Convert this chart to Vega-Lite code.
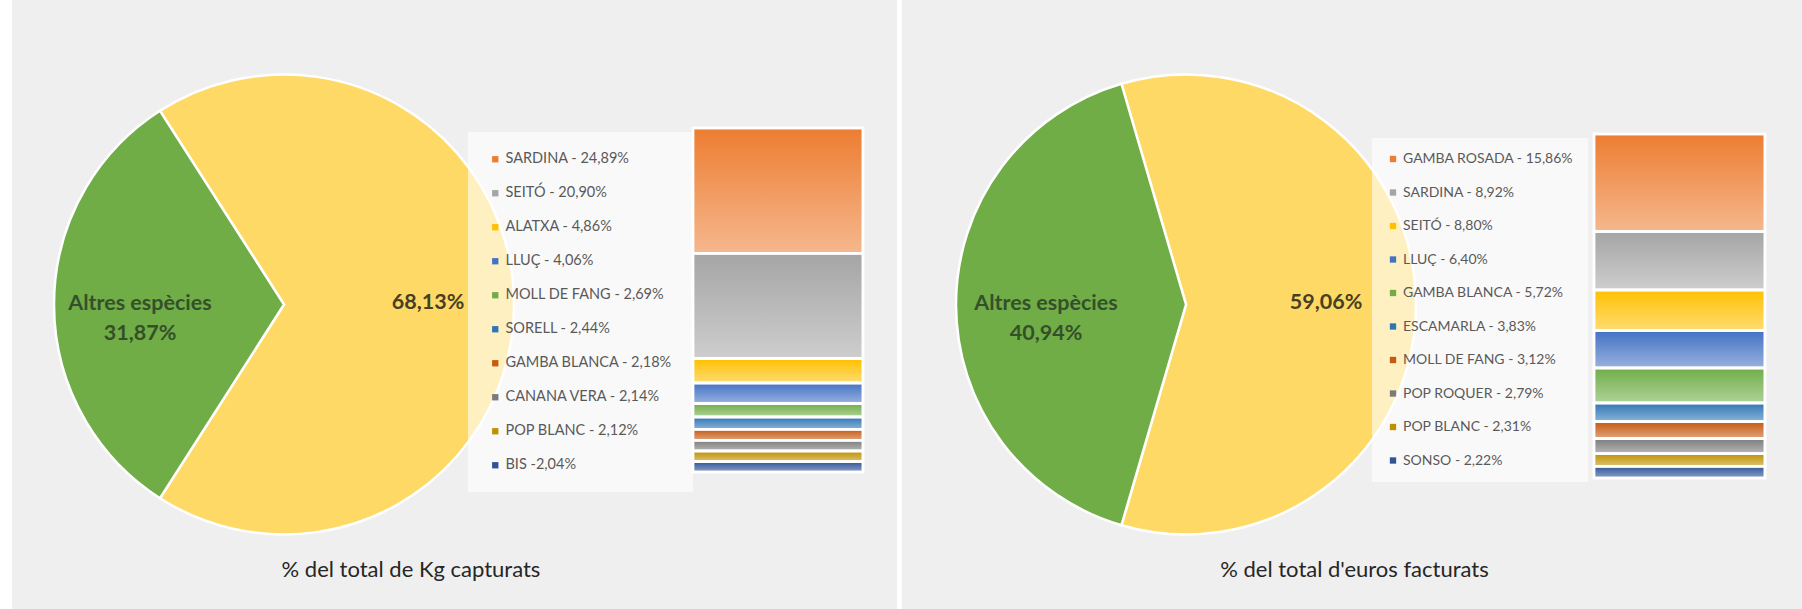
{
  "$schema": "https://vega.github.io/schema/vega-lite/v6.json",
  "background": "#FFFFFF",
  "padding": {"left": 12, "top": 0, "right": 0, "bottom": 0},
  "spacing": 5,
  "config": {"view": {"stroke": null}, "font": "Lato"},
  "resolve": {"scale": {"color": "independent", "theta": "independent", "x": "independent", "y": "independent"}, "legend": {"color": "independent"}},
  "hconcat": [
    {
      "spacing": 0,
      "bounds": "flush",
      "resolve": {"scale": {"color": "independent", "theta": "independent", "x": "independent", "y": "independent"}, "legend": {"color": "independent"}},
      "hconcat": [
        {
          "width": 544,
          "height": 609,
          "view": {"fill": "#EFEFEF", "stroke": null},
          "data": {"values": [
            {"cat": "Seleccionades", "v": 68.13, "k": 1, "lbl": "68,13%"},
            {"cat": "Altres espècies", "v": 31.87, "k": 2, "lbl": "Altres espècies\n31,87%"}
          ]},
          "encoding": {
            "theta": {"field": "v", "type": "quantitative", "stack": true, "scale": {"range": [-0.5696, 5.7136]}},
            "order": {"field": "k", "type": "quantitative"}
          },
          "layer": [
            {
              "mark": {"type": "arc", "radius": 230, "stroke": "#FFFFFF", "strokeWidth": 2.5},
              "encoding": {"color": {"field": "cat", "type": "nominal", "scale": {"domain": ["Seleccionades", "Altres espècies"], "range": ["#FFD966", "#70AD47"]}, "legend": null}}
            },
            {
              "mark": {"type": "text", "radius": 144, "font": "Lato", "fontSize": 21.5, "fontWeight": "bold", "lineBreak": "\n", "baseline": "top", "dy": -12, "lineHeight": 30},
              "encoding": {
                "text": {"field": "lbl"},
                "color": {"field": "cat", "type": "nominal", "scale": {"domain": ["Seleccionades", "Altres espècies"], "range": ["#473F22", "#34502A"]}, "legend": null}
              }
            }
          ],
          "resolve": {"scale": {"color": "independent"}}
        },
        {
          "width": 341,
          "height": 609,
          "view": {"fill": "#EFEFEF", "stroke": null},
          "title": {"text": "% del total de Kg capturats", "orient": "bottom", "anchor": "middle", "dx": -315.5, "offset": -49, "font": "Lato", "fontSize": 22, "fontWeight": "normal", "color": "#262626"},
          "data": {"values": [
            {"k": 1, "label": "SARDINA - 24,89%", "v": 24.89},
            {"k": 2, "label": "SEITÓ - 20,90%", "v": 20.90},
            {"k": 3, "label": "ALATXA - 4,86%", "v": 4.86},
            {"k": 4, "label": "LLUÇ - 4,06%", "v": 4.06},
            {"k": 5, "label": "MOLL DE FANG - 2,69%", "v": 2.69},
            {"k": 6, "label": "SORELL - 2,44%", "v": 2.44},
            {"k": 7, "label": "GAMBA BLANCA - 2,18%", "v": 2.18},
            {"k": 8, "label": "CANANA VERA - 2,14%", "v": 2.14},
            {"k": 9, "label": "POP BLANC - 2,12%", "v": 2.12},
            {"k": 10, "label": "BIS -2,04%", "v": 2.04}
          ]},
          "encoding": {
            "x": {"datum": "bar", "type": "nominal", "axis": null, "scale": {"paddingInner": 0, "paddingOuter": 0.5029, "align": 0.801}},
            "y": {"field": "v", "type": "quantitative", "stack": true, "axis": null, "scale": {"domain": [-25.42, 95.53], "reverse": true, "nice": false, "zero": false}},
            "order": {"field": "k", "type": "quantitative"}
          },
          "layer": [
            {
              "mark": {"type": "bar", "stroke": "#FFFFFF", "strokeWidth": 2.5},
              "encoding": {
                "color": {
                  "field": "label", "type": "nominal",
                  "scale": {
                    "domain": ["SARDINA - 24,89%", "SEITÓ - 20,90%", "ALATXA - 4,86%", "LLUÇ - 4,06%", "MOLL DE FANG - 2,69%", "SORELL - 2,44%", "GAMBA BLANCA - 2,18%", "CANANA VERA - 2,14%", "POP BLANC - 2,12%", "BIS -2,04%"],
                    "range": ["#ED7D31", "#A5A5A5", "#FFC000", "#4472C4", "#70AD47", "#2E75B6", "#C55A11", "#7B7B7B", "#BF9000", "#2F5597"]
                  },
                  "legend": {"orient": "none", "legendX": -88, "legendY": 132, "title": null, "symbolType": "square", "symbolSize": 40, "symbolStrokeWidth": 0, "labelFont": "Lato", "labelFontSize": 14.5, "labelColor": "#595959", "rowPadding": 19, "padding": 20, "fillColor": "rgba(255,255,255,0.6)", "labelLimit": 300, "labelOffset": 3}
                }
              }
            },
            {
              "mark": {"type": "bar", "stroke": "#FFFFFF", "strokeWidth": 2.5, "fill": {"gradient": "linear", "x1": 0, "y1": 0, "x2": 0, "y2": 1, "stops": [{"offset": 0, "color": "rgba(255,255,255,0)"}, {"offset": 1, "color": "rgba(255,255,255,0.45)"}]}}
            }
          ]
        }
      ]
    },
    {
      "spacing": 0,
      "bounds": "flush",
      "resolve": {"scale": {"color": "independent", "theta": "independent", "x": "independent", "y": "independent"}, "legend": {"color": "independent"}},
      "hconcat": [
        {
          "width": 568,
          "height": 609,
          "view": {"fill": "#EFEFEF", "stroke": null},
          "data": {"values": [
            {"cat": "Seleccionades", "v": 59.06, "k": 1, "lbl": "59,06%"},
            {"cat": "Altres espècies", "v": 40.94, "k": 2, "lbl": "Altres espècies\n40,94%"}
          ]},
          "encoding": {
            "theta": {"field": "v", "type": "quantitative", "stack": true, "scale": {"range": [-0.2847, 5.9985]}},
            "order": {"field": "k", "type": "quantitative"}
          },
          "layer": [
            {
              "mark": {"type": "arc", "radius": 230, "stroke": "#FFFFFF", "strokeWidth": 2.5},
              "encoding": {"color": {"field": "cat", "type": "nominal", "scale": {"domain": ["Seleccionades", "Altres espècies"], "range": ["#FFD966", "#70AD47"]}, "legend": null}}
            },
            {
              "mark": {"type": "text", "radius": 140, "font": "Lato", "fontSize": 21.5, "fontWeight": "bold", "lineBreak": "\n", "baseline": "top", "dy": -12, "lineHeight": 30},
              "encoding": {
                "text": {"field": "lbl"},
                "color": {"field": "cat", "type": "nominal", "scale": {"domain": ["Seleccionades", "Altres espècies"], "range": ["#473F22", "#34502A"]}, "legend": null}
              }
            }
          ],
          "resolve": {"scale": {"color": "independent"}}
        },
        {
          "width": 332,
          "height": 609,
          "view": {"fill": "#EFEFEF", "stroke": null},
          "title": {"text": "% del total d'euros facturats", "orient": "bottom", "anchor": "middle", "dx": -281.5, "offset": -49, "font": "Lato", "fontSize": 22, "fontWeight": "normal", "color": "#262626"},
          "data": {"values": [
            {"k": 1, "label": "GAMBA ROSADA - 15,86%", "v": 16.78},
            {"k": 2, "label": "SARDINA - 8,92%", "v": 9.99},
            {"k": 3, "label": "SEITÓ - 8,80%", "v": 7.02},
            {"k": 4, "label": "LLUÇ - 6,40%", "v": 6.39},
            {"k": 5, "label": "GAMBA BLANCA - 5,72%", "v": 5.99},
            {"k": 6, "label": "ESCAMARLA - 3,83%", "v": 3.25},
            {"k": 7, "label": "MOLL DE FANG - 3,12%", "v": 2.85},
            {"k": 8, "label": "POP ROQUER - 2,79%", "v": 2.62},
            {"k": 9, "label": "POP BLANC - 2,31%", "v": 2.17},
            {"k": 10, "label": "SONSO - 2,22%", "v": 2.00}
          ]},
          "encoding": {
            "x": {"datum": "bar", "type": "nominal", "axis": null, "scale": {"paddingInner": 0, "paddingOuter": 0.4708, "align": 0.770}},
            "y": {"field": "v", "type": "quantitative", "stack": true, "axis": null, "scale": {"domain": [-23.0, 81.55], "reverse": true, "nice": false, "zero": false}},
            "order": {"field": "k", "type": "quantitative"}
          },
          "layer": [
            {
              "mark": {"type": "bar", "stroke": "#FFFFFF", "strokeWidth": 2.5},
              "encoding": {
                "color": {
                  "field": "label", "type": "nominal",
                  "scale": {
                    "domain": ["GAMBA ROSADA - 15,86%", "SARDINA - 8,92%", "SEITÓ - 8,80%", "LLUÇ - 6,40%", "GAMBA BLANCA - 5,72%", "ESCAMARLA - 3,83%", "MOLL DE FANG - 3,12%", "POP ROQUER - 2,79%", "POP BLANC - 2,31%", "SONSO - 2,22%"],
                    "range": ["#ED7D31", "#A5A5A5", "#FFC000", "#4472C4", "#70AD47", "#2E75B6", "#C55A11", "#7B7B7B", "#BF9000", "#2F5597"]
                  },
                  "legend": {"orient": "none", "legendX": -98, "legendY": 138, "title": null, "symbolType": "square", "symbolSize": 40, "symbolStrokeWidth": 0, "labelFont": "Lato", "labelFontSize": 14, "labelColor": "#595959", "rowPadding": 19.5, "padding": 14, "fillColor": "rgba(255,255,255,0.6)", "labelLimit": 300, "labelOffset": 3}
                }
              }
            },
            {
              "mark": {"type": "bar", "stroke": "#FFFFFF", "strokeWidth": 2.5, "fill": {"gradient": "linear", "x1": 0, "y1": 0, "x2": 0, "y2": 1, "stops": [{"offset": 0, "color": "rgba(255,255,255,0)"}, {"offset": 1, "color": "rgba(255,255,255,0.45)"}]}}
            }
          ]
        }
      ]
    }
  ]
}
